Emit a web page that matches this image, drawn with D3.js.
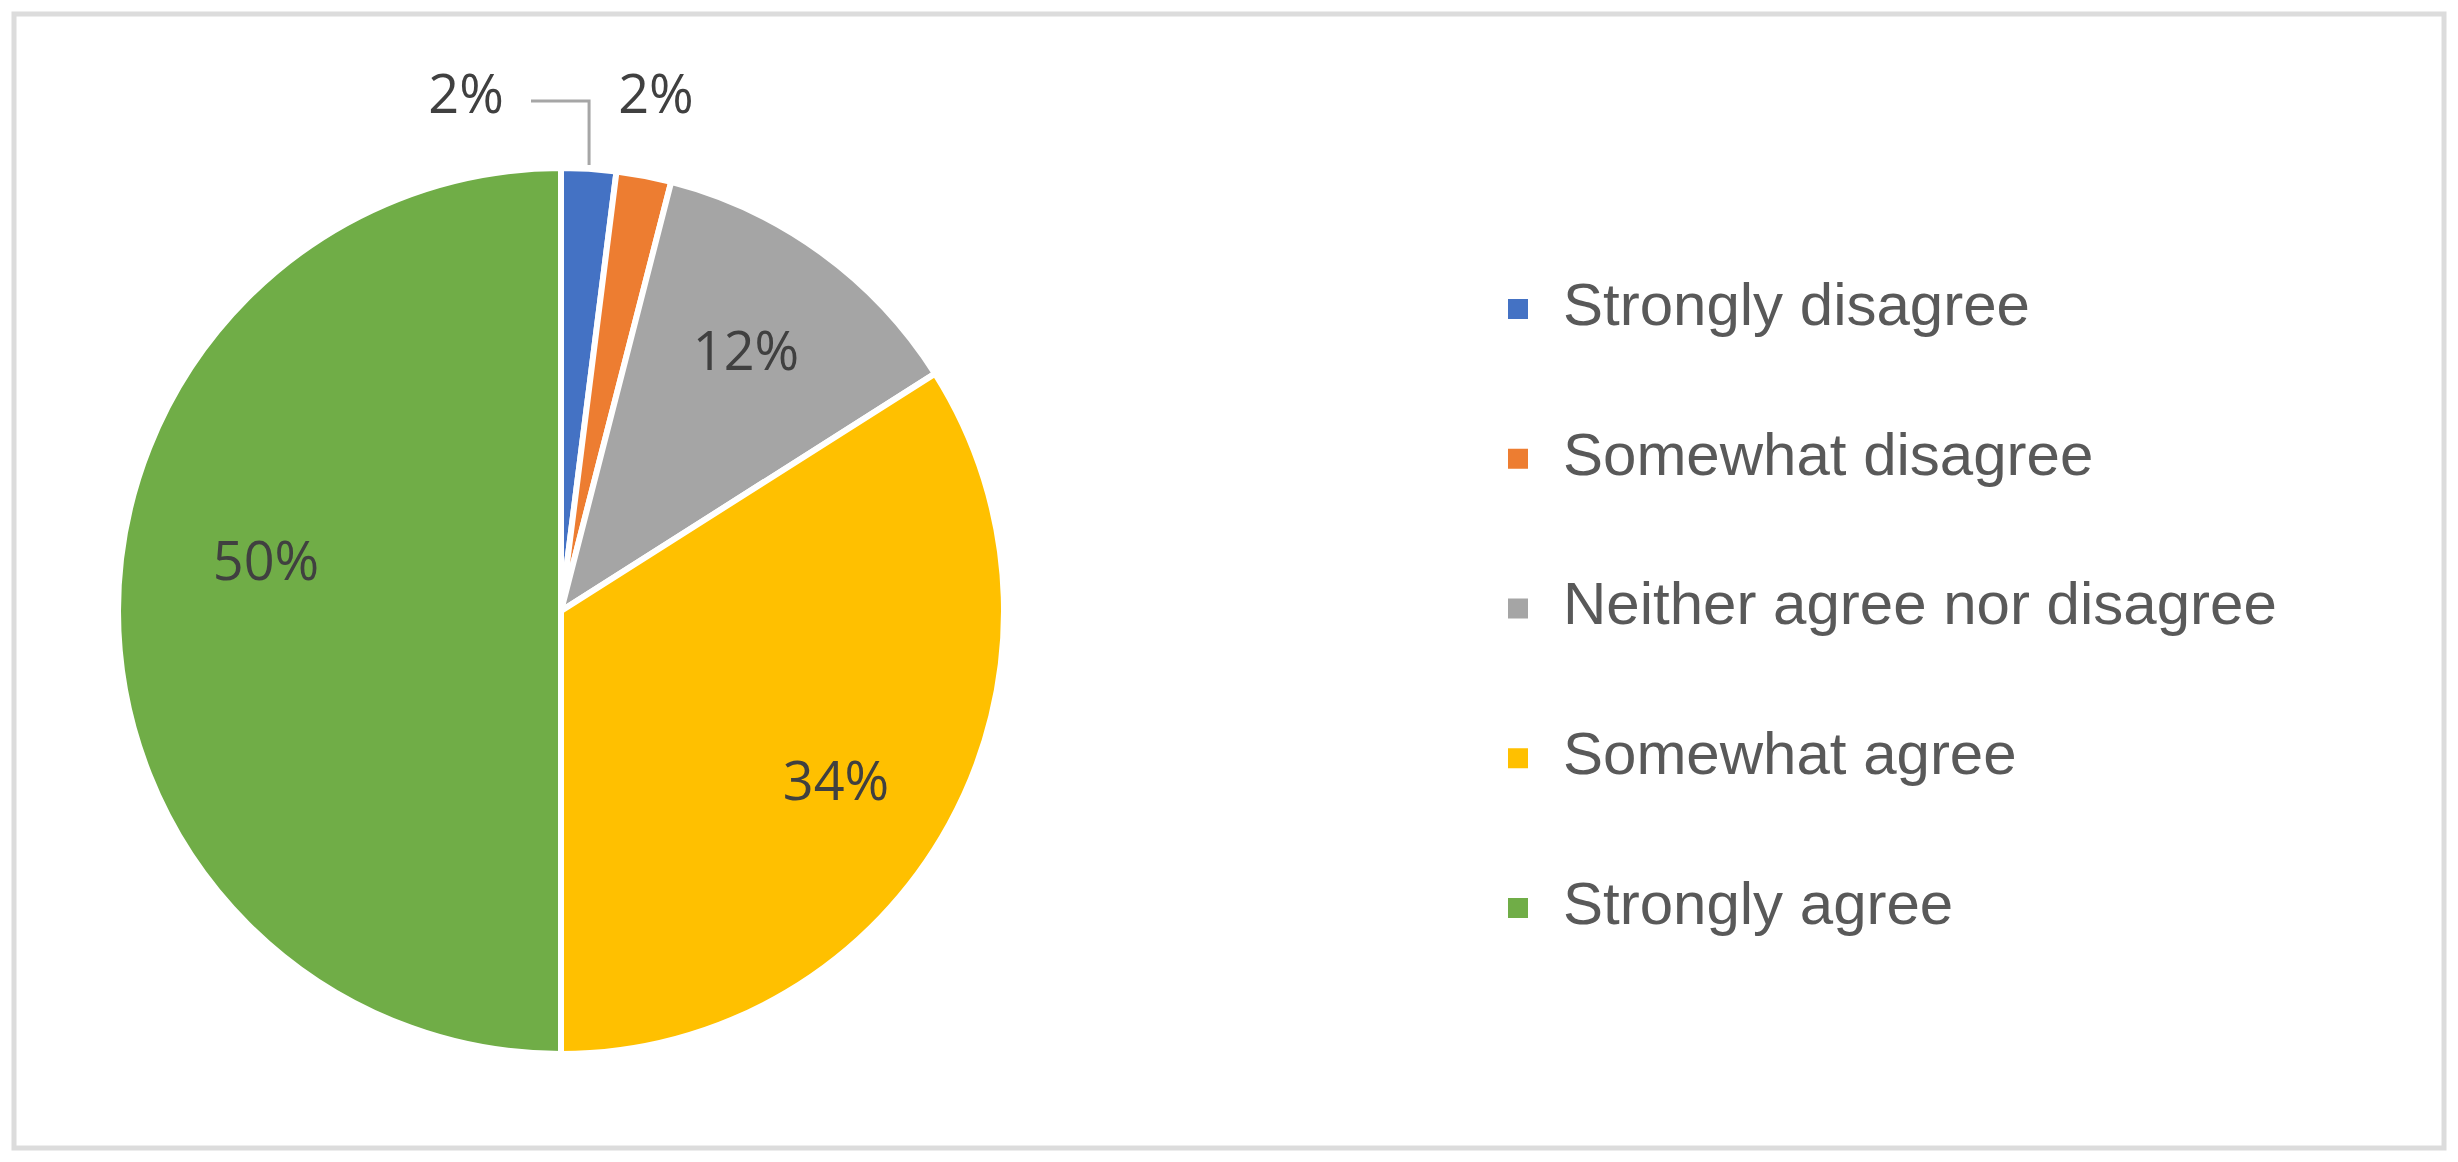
<!DOCTYPE html>
<html><head><meta charset="utf-8">
<script src="https://cdn.jsdelivr.net/npm/d3@7"></script>
<style>body{margin:0;background:#fff}</style>
</head><body>
<div class="chart"></div>
<script>
const categories = ["Strongly disagree","Somewhat disagree","Neither agree nor disagree","Somewhat agree","Strongly agree"];
const values = [2, 2, 12, 34, 50];
const colors = ["#4472C4","#ED7D31","#A5A5A5","#FFC000","#70AD47"];

const width = 2458, height = 1162;
const svg = d3.select(".chart").append("svg").attr("width", width).attr("height", height);

// frame
svg.append("rect").attr("x", 14).attr("y", 14).attr("width", width - 28).attr("height", height - 28)
    .attr("fill", "#fff").attr("stroke", "#dcdcdc").attr("stroke-width", 5);

const cx = 561, cy = 611, r = 443;
const pie = d3.pie().sort(null).value(d => d.v);
const arcs = pie(values.map((v, i) => ({v, i})));
const arc = d3.arc().innerRadius(0).outerRadius(r);

const g = svg.append("g").attr("transform", `translate(${cx},${cy})`);
g.selectAll("path").data(arcs).enter().append("path")
    .attr("d", arc)
    .attr("fill", d => colors[d.data.i])
    .attr("stroke", "#fff").attr("stroke-width", 6).attr("stroke-linejoin", "round");

// labels: small ones outside, rest inside
const labelPos = [[-95, -512], [95, -512], [185, -255], [275, 175], [-295, -45]];
g.selectAll("text.lbl").data(arcs).enter().append("text")
    .attr("class", "lbl")
    .attr("x", (d, i) => labelPos[i][0])
    .attr("y", (d, i) => labelPos[i][1])
    .attr("text-anchor", "middle")
    .attr("dominant-baseline", "middle")
    .attr("font-family", "'Open Sans', sans-serif")
    .attr("font-size", 54)
    .attr("fill", "#404040")
    .text(d => d.data.v + "%");

// leader line for the first slice
const mid = (arcs[0].startAngle + arcs[0].endAngle) / 2;
const ex = Math.sin(mid) * (r + 4), ey = -Math.cos(mid) * (r + 4);
g.append("path")
    .attr("d", `M${-30},${-510} H${ex} V${ey}`)
    .attr("fill", "none").attr("stroke", "#a6a6a6").attr("stroke-width", 3);

// legend
const legendY = d3.scalePoint().domain(categories).range([309, 908]);
const leg = svg.selectAll("g.leg").data(categories).enter().append("g")
    .attr("transform", d => `translate(1508,${legendY(d)})`);
leg.append("rect").attr("x", 0).attr("y", -10).attr("width", 20).attr("height", 20)
    .attr("fill", (d, i) => colors[i]);
leg.append("text").attr("x", 55).attr("y", 0)
    .attr("dominant-baseline", "middle")
    .attr("font-family", "'Liberation Sans Narrow', 'Liberation Sans', sans-serif")
    .attr("font-size", 60)
    .attr("fill", "#595959")
    .text(d => d);
</script>
</body></html>
